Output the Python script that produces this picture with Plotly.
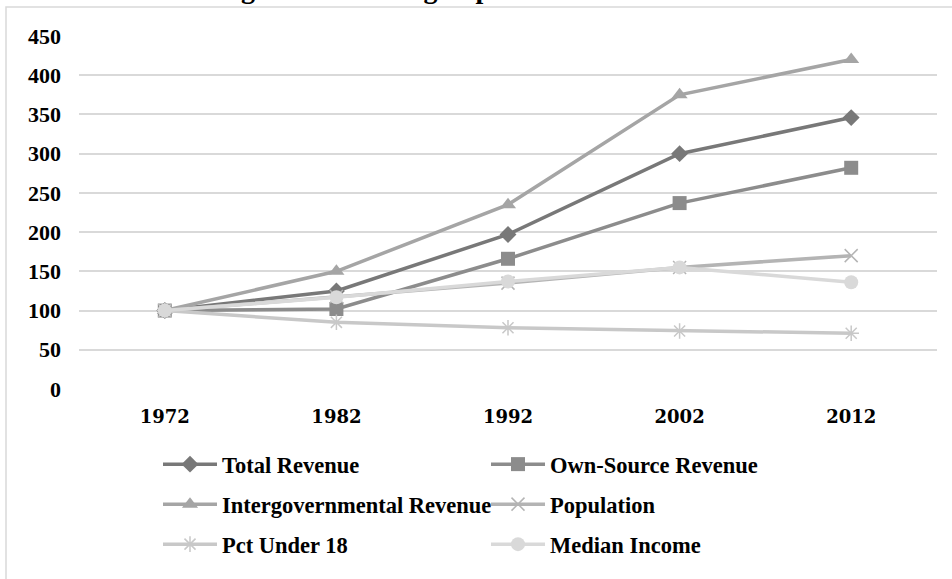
import plotly.graph_objects as go

years = ["1972", "1982", "1992", "2002", "2012"]
total_revenue = [100, 125, 197, 300, 346]
own_source_revenue = [100, 102, 166, 237, 282]
intergov_revenue = [100, 150, 235, 375, 420]
population = [100, 118, 135, 155, 170]
pct_under_18 = [100, 85, 78, 74, 71]
median_income = [100, 117, 137, 155, 136]
y_ticks = [0, 50, 100, 150, 200, 250, 300, 350, 400, 450]

series = [
    ("Total Revenue", total_revenue, "#787878", "diamond", 13, "legend"),
    ("Own-Source Revenue", own_source_revenue, "#8c8c8c", "square", 14, "legend"),
    ("Intergovernmental Revenue", intergov_revenue, "#a5a5a5", "triangle-up", 14, "legend2"),
    ("Population", population, "#b4b4b4", "x-thin", 13, "legend2"),
    ("Pct Under 18", pct_under_18, "#c8c8c8", "asterisk", 13, "legend3"),
    ("Median Income", median_income, "#d9d9d9", "circle", 14, "legend3"),
]

fig = go.Figure()
for name, vals, col, sym, sz, lg in series:
    thin = sym in ("x-thin", "asterisk")
    fig.add_trace(go.Scatter(
        x=years, y=vals, name=name, mode="lines+markers", legend=lg,
        line=dict(color=col, width=3.5),
        marker=dict(symbol=sym, size=sz, color=col,
                    line=dict(color=col, width=1.5 if thin else 0)),
    ))

W, H = 952, 579
L, R, T, B = 79, 15, 36, 190
pw, ph = W - L - R, H - T - B

def px(x):
    return (x - L) / pw

def py(y):
    return (H - B - y) / ph

legend_font = dict(family="Liberation Serif", size=22.5, color="black", weight="bold")

def make_legend(ytop):
    return dict(
        orientation="h", xref="container", yref="container",
        x=158 / W, xanchor="left", y=1 - ytop / H, yanchor="top",
        entrywidth=259, entrywidthmode="pixels", itemwidth=54,
        font=legend_font, bgcolor="rgba(0,0,0,0)", traceorder="normal",
    )

fig.update_layout(
    width=W, height=H,
    margin=dict(l=L, r=R, t=T, b=B, autoexpand=False),
    paper_bgcolor="white", plot_bgcolor="white",
    font=dict(family="Liberation Serif", color="black"),
    showlegend=True,
    legend=make_legend(443),
    legend2=make_legend(483),
    legend3=make_legend(523),
    xaxis=dict(
        type="category", range=[-0.5, 4.5], showgrid=False, zeroline=False,
        showline=False, ticks="", ticklabelstandoff=15,
        tickfont=dict(family="DejaVu Serif", size=18, color="black", weight="bold"),
    ),
    yaxis=dict(
        range=[0, 450], tickvals=y_ticks, showgrid=True, gridcolor="#d9d9d9",
        gridwidth=1.5, zeroline=False, showline=False, ticks="",
        ticklabelstandoff=17,
        tickfont=dict(family="Liberation Serif", size=22, color="black", weight="bold"),
    ),
    shapes=[dict(
        type="rect", xref="paper", yref="paper",
        x0=px(6), x1=px(1000), y0=py(700), y1=py(7),
        line=dict(color="#d9d9d9", width=1.5), fillcolor="rgba(0,0,0,0)", layer="below",
    )],
    annotations=[dict(
        text="Figure 1: Growing Population Variation Trends",
        xref="paper", yref="paper", x=px(500), y=py(6), xanchor="center", yanchor="bottom",
        showarrow=False,
        font=dict(family="Liberation Serif", size=28, color="black", weight="bold"),
    )],
)

fig.write_html("out.html")
